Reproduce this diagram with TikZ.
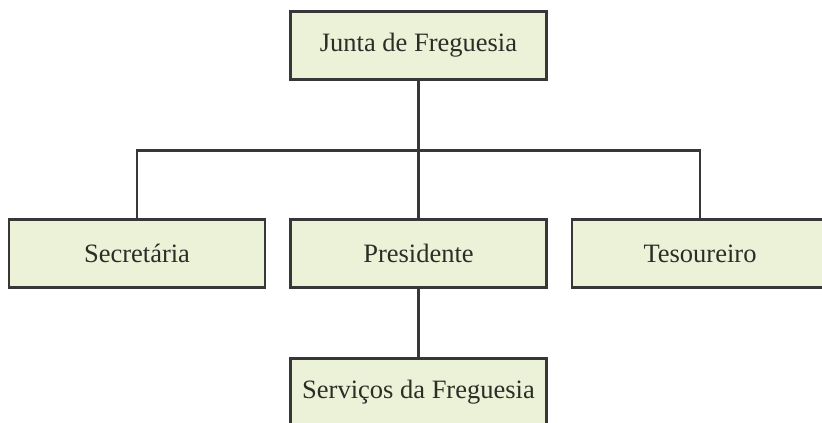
\documentclass[tikz,border=0pt]{standalone}
\usepackage{fontspec}
\setmainfont{Liberation Serif}
\definecolor{boxfill}{RGB}{236,242,216}
\definecolor{edge}{RGB}{55,55,55}
\definecolor{ink}{RGB}{45,45,40}
\begin{document}
\begin{tikzpicture}[x=1pt,y=-1pt,
  orgbox/.style={draw=edge, line width=2.4pt, fill=boxfill, text=ink,
    minimum width=256pt, minimum height=68pt, inner sep=0pt,
    font=\fontsize{26.5}{30}\selectfont},
  link/.style={draw=edge, line width=2.2pt}]
\useasboundingbox (0,0) rectangle (822,423);
\fill[white] (0,0) rectangle (822,423);
\clip (0,0) rectangle (822,423);
\node[orgbox] (junta) at (418.5,45.5) {Junta de Freguesia};
\node[orgbox] (sec) at (137,253.5) {Secretária};
\node[orgbox] (pres) at (418.5,253.5) {Presidente};
\node[orgbox] (tes) at (700,253.5) {Tesoureiro};
\node[orgbox] (serv) at (418.5,392.5) {Serviços da Freguesia};
\coordinate (bus) at (418.5,150.5);
\draw[link] (junta.south) -- (pres.north);
\draw[link] (sec.north) |- (bus) -| (tes.north);
\draw[link] (pres.south) -- (serv.north);
\end{tikzpicture}
\end{document}
